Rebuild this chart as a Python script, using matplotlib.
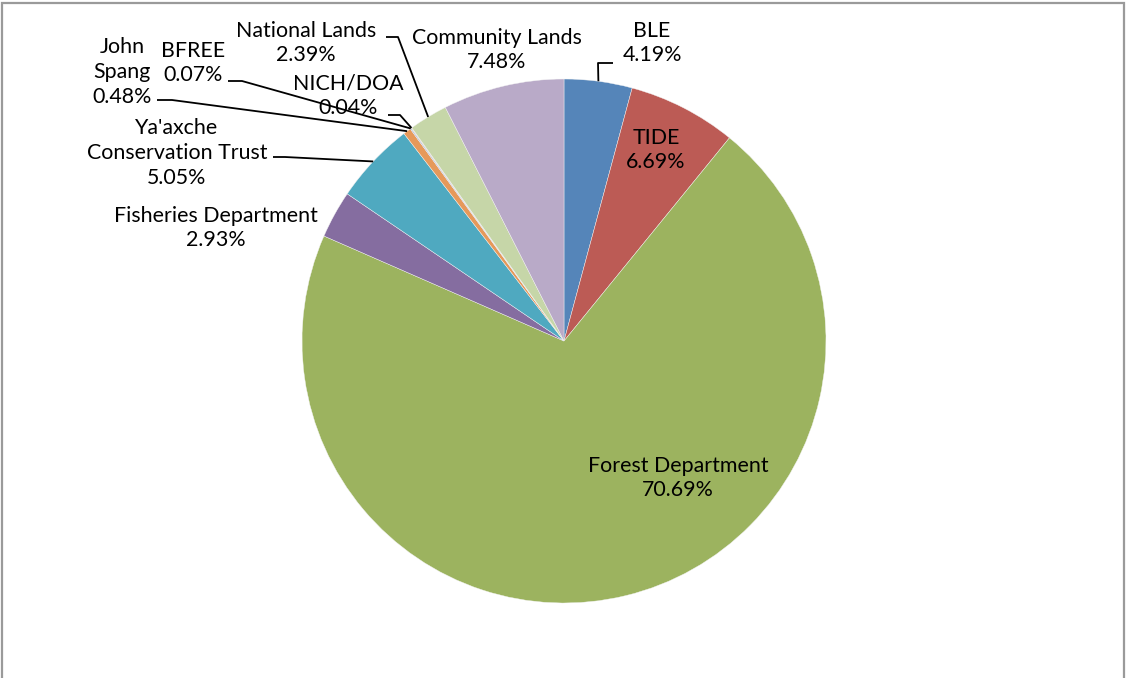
import matplotlib
matplotlib.use("Agg")
import matplotlib.pyplot as plt
import numpy as np

# data
labels = ["BLE", "TIDE", "Forest Department", "Fisheries Department",
          "Ya'axche\nConservation Trust", "John\nSpang", "BFREE", "NICH/DOA",
          "National Lands", "Community Lands"]
shares = [4.19, 6.69, 70.69, 2.93, 5.05, 0.48, 0.07, 0.04, 2.39, 7.48]
colors = ["#5585B9", "#BC5B55", "#9CB35F", "#856DA0", "#4FA9C0", "#E6995A",
          "#9FB6D6", "#D9A3A1", "#C6D6A8", "#B9AAC8"]

plt.rcParams['font.family'] = ['Lato', 'DejaVu Sans']

W, H = 1126, 678
CX, CY, R = 564, 341, 262


def px(x, y):
    # pixel (from top-left) -> data coords of the pie axes
    return (x - CX) / R, (CY - y) / R


fig = plt.figure(figsize=(W / 100, H / 100), dpi=100)
fig.patch.set_facecolor("white")

# chart border
border = plt.Rectangle((2 / W, -0.1), (1124 - 2) / W, 1.1 - 3 / H,
                       transform=fig.transFigure, fill=False,
                       edgecolor="#9a9a9a", linewidth=1.6)
fig.add_artist(border)

ax = fig.add_axes(((CX - R) / W, (H - CY - R) / H, 2 * R / W, 2 * R / H))
wedges, _ = ax.pie(shares, colors=colors, startangle=90, counterclock=False,
                   radius=1, wedgeprops=dict(linewidth=0.3, edgecolor="#f4f4f4"))
ax.set_xlim(-1, 1)
ax.set_ylim(-1, 1)
ax.set_aspect("auto")
ax.axis("off")

# label positions (pixel centres) and leader stubs (text end, elbow)
label_pos = {
    0: (652, 43), 1: (656, 150), 2: (678, 478), 3: (216, 228),
    4: (177, 153), 5: (122, 72), 6: (193, 63), 7: (348, 96),
    8: (306, 43), 9: (497, 50),
}
leaders = {
    0: ((613, 63), (598, 63)),
    4: ((273, 157), (285, 157)),
    5: ((157, 100), (172, 100)),
    6: ((228, 81), (242, 81)),
    7: ((388, 115), (400, 115)),
    8: ((386, 37), (398, 37)),
}

for i, (lab, val) in enumerate(zip(labels, shares)):
    tx, ty = px(*label_pos[i])
    ax.text(tx, ty, "%s\n%.2f%%" % (lab, val), ha="center", va="center",
            fontsize=15.4, color="#000000", linespacing=1.3, clip_on=False)

for i, (p0, p1) in leaders.items():
    w = wedges[i]
    mid = np.deg2rad((w.theta1 + w.theta2) / 2)
    ex, ey = np.cos(mid), np.sin(mid)
    x0, y0 = px(*p0)
    x1, y1 = px(*p1)
    ax.plot([x0, x1, ex], [y0, y1, ey], color="black", linewidth=1.3,
            clip_on=False, solid_capstyle="butt")

fig.savefig("out.png", dpi=100)
